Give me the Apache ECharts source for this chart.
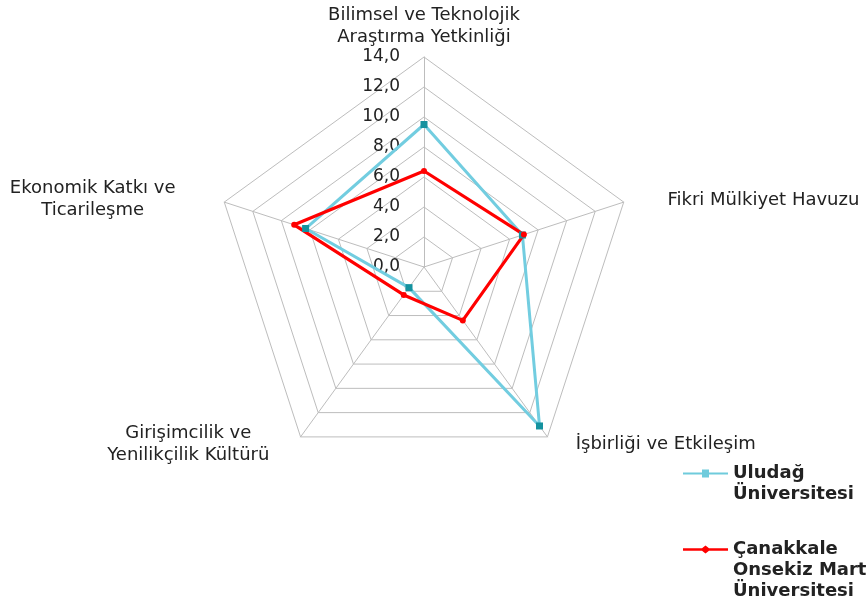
<!DOCTYPE html>
<html>
<head>
<meta charset="utf-8">
<script src="https://cdn.jsdelivr.net/npm/echarts@6/dist/echarts.min.js"></script>
<style>html,body{margin:0;padding:0;background:#fff}#c{width:867px;height:608px}</style>
</head>
<body>
<div id="c"></div>
<script>
// Categories in clockwise order starting from the top
var categories = [
  'Bilimsel ve Teknolojik\nAraştırma Yetkinliği',
  'Fikri Mülkiyet Havuzu',
  'İşbirliği ve Etkileşim',
  'Girişimcilik ve\nYenilikçilik Kültürü',
  'Ekonomik Katkı ve\nTicarileşme'
];
var seriesNames = ['Uludağ Üniversitesi', 'Çanakkale Onsekiz Mart Üniversitesi'];
var legendLabels = ['Uludağ\nÜniversitesi', 'Çanakkale\nOnsekiz Mart\nÜniversitesi'];
var uludagValues = [9.5, 6.9, 13.1, 1.7, 8.3];
var canakkaleValues = [6.4, 7.0, 4.4, 2.3, 9.1];
var axisMin = 0, axisMax = 14, splitCount = 7;

// ECharts places indicators counter-clockwise; reorder to match the clockwise layout
var order = [0, 4, 3, 2, 1];
var FONT = 'DejaVu Sans';
var nameStyles = {
  0: {nameGap: 8},
  1: {nameGap: 6, nameTextStyle: {padding: [0, 0, 0, 38]}},
  2: {nameGap: 9, nameTextStyle: {padding: [0, 0, 0, 23]}},
  3: {nameGap: 9, nameTextStyle: {padding: [0, 23, 0, 0]}, lineBox: 168},
  4: {nameGap: 8, nameTextStyle: {padding: [0, 37, 0, 0]}, lineBox: 174}
};
var indicators = order.map(function (i) {
  var o = {name: categories[i], min: axisMin, max: axisMax};
  var s = nameStyles[i];
  o.nameGap = s.nameGap;
  if (s.nameTextStyle) o.nameTextStyle = s.nameTextStyle;
  if (s.lineBox) o.lineBox = s.lineBox;
  if (i === 0) o.axisLabel = {show: true};
  return o;
});
function reorder(arr) { return order.map(function (i) { return arr[i]; }); }

var chart = echarts.init(document.getElementById('c'), null, {renderer: 'canvas'});
var labelMap = {};
seriesNames.forEach(function (n, k) {
  // pad with blank lines on top so the first text line sits level with the icon
  var lines = legendLabels[k].split('\n');
  var pad = [];
  for (var j = 1; j < lines.length; j++) pad.push(' ');
  labelMap[n] = pad.concat(lines).join('\n');
});
var legendText = {fontFamily: FONT, fontSize: 18, fontWeight: 'bold', color: '#222', lineHeight: 21};

chart.setOption({
  backgroundColor: '#fff',
  animation: false,
  legend: [
    {
      left: 683, top: 442, padding: 0, orient: 'vertical',
      itemWidth: 45, itemHeight: 8,
      formatter: function (n) { return labelMap[n]; },
      textStyle: legendText,
      data: [{name: seriesNames[0], icon: 'path://M0,3H19V0H26V3H45V5H26V8H19V5H0Z', itemStyle: {color: '#6fcbdc'}}]
    },
    {
      left: 683, top: 497, padding: 0, orient: 'vertical',
      itemWidth: 45, itemHeight: 8,
      formatter: function (n) { return labelMap[n]; },
      textStyle: legendText,
      data: [{name: seriesNames[1], icon: 'path://M0,2.7H19L22.5,0L26,2.7H45V5.3H26L22.5,8L19,5.3H0Z', itemStyle: {color: '#ff0000'}}]
    }
  ],
  radar: {
    center: [424, 267],
    radius: 210,
    startAngle: 90,
    shape: 'polygon',
    splitNumber: splitCount,
    axisNameGap: 10,
    axisName: {
      color: '#222', fontFamily: FONT, fontSize: 18, lineHeight: 22,
      formatter: function (name, ind) {
        if (ind && ind.lineBox) {
          return name.split('\n').map(function (l) { return '{c' + ind.lineBox + '|' + l + '}'; }).join('\n');
        }
        return name;
      },
      rich: {
        c168: {width: 168, align: 'center', fontFamily: FONT, fontSize: 18, lineHeight: 22, color: '#222'},
        c174: {width: 174, align: 'center', fontFamily: FONT, fontSize: 18, lineHeight: 22, color: '#222'}
      }
    },
    splitLine: {lineStyle: {color: '#bdbdbd', width: 1}},
    splitArea: {show: false},
    axisLine: {lineStyle: {color: '#bdbdbd', width: 1}},
    axisTick: {show: false},
    axisLabel: {
      show: false, margin: 24, color: '#222', fontFamily: FONT, fontSize: 17,
      formatter: function (v) { return v.toFixed(1).replace('.', ','); }
    },
    indicator: indicators
  },
  series: [{
    type: 'radar',
    data: [
      {
        name: seriesNames[0], value: reorder(uludagValues),
        symbol: 'rect', symbolSize: 7,
        lineStyle: {color: '#72cde0', width: 3},
        itemStyle: {color: '#14929f'}
      },
      {
        name: seriesNames[1], value: reorder(canakkaleValues),
        symbol: 'circle', symbolSize: 6,
        lineStyle: {color: '#ff0000', width: 3.2},
        itemStyle: {color: '#ff0000'}
      }
    ]
  }]
});
</script>
</body>
</html>
